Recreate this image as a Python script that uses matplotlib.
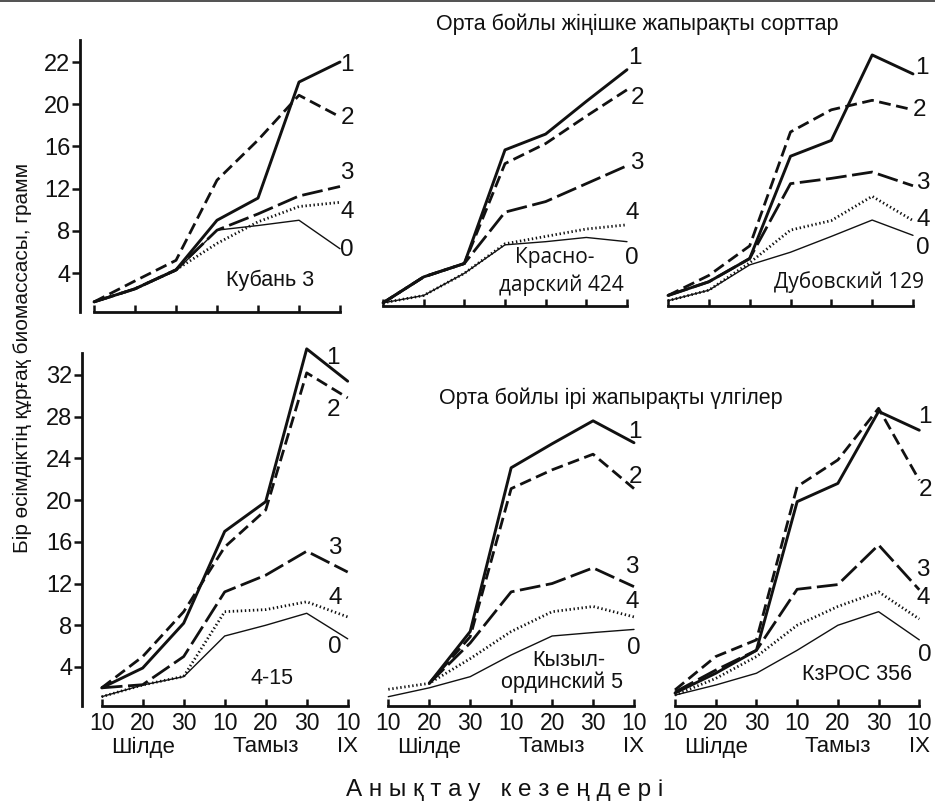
import numpy as np
import matplotlib
matplotlib.use('Agg')
import matplotlib.pyplot as plt
from matplotlib.lines import Line2D
import matplotlib.transforms as mtransforms

plt.rcParams['font.family'] = ['Liberation Sans', 'DejaVu Sans']
plt.rcParams['lines.scale_dashes'] = False

# ---------------- data ----------------
periods = ['10', '20', '30', '10', '20', '30', '10']
months = ['Шілде', 'Тамыз', 'IX']
month_pos = [1, 4, 6]
series_names = ['1', '2', '3', '4', '0']
x = np.arange(7)
nan = np.nan

# top row: Орта бойлы жіңішке жапырақты сорттар
kuban_1 = [1.26, 2.5, 4.3, 9.0, 11.1, 22.1, 24.0]
kuban_2 = [1.26, 3.25, 5.2, 12.8, 16.6, 20.85, 18.8]
kuban_3 = [1.26, 2.5, 4.3, 8.06, 9.6, 11.3, 12.2]
kuban_4 = [1.26, 2.5, 4.3, 6.8, 8.85, 10.3, 10.7]
kuban_0 = [1.26, 2.5, 4.2, 8.06, 8.5, 9.0, 6.3]

krasn_1 = [0.6, 3.06, 4.33, 15.1, 16.6, 19.7, 22.7]
krasn_2 = [0.6, 3.06, 4.33, 13.8, 15.7, 18.3, 20.8]
krasn_3 = [0.6, 3.06, 4.33, 9.2, 10.2, 11.9, 13.6]
krasn_4 = [0.6, 1.3, 3.4, 6.2, 6.9, 7.6, 8.0]
krasn_0 = [0.6, 1.3, 3.4, 6.1, 6.4, 6.8, 6.4]

dubov_1 = [1.3, 2.6, 4.8, 14.5, 16.0, 24.1, 22.3]
dubov_2 = [1.3, 3.2, 6.0, 16.8, 18.9, 19.8, 18.9]
dubov_3 = [1.3, 2.6, 4.8, 11.9, 12.4, 13.0, 11.7]
dubov_4 = [0.8, 1.8, 4.4, 7.5, 8.4, 10.7, 8.4]
dubov_0 = [0.8, 1.8, 4.2, 5.4, 6.9, 8.45, 7.0]

# bottom row: Орта бойлы ірі жапырақты үлгілер
s415_1 = [2.0, 3.9, 8.2, 17.0, 19.85, 34.5, 31.4]
s415_2 = [2.0, 5.0, 9.3, 15.5, 19.05, 32.2, 29.8]
s415_3 = [2.0, 2.3, 5.0, 11.2, 12.8, 15.1, 13.1]
s415_4 = [1.15, 2.27, 3.1, 9.3, 9.5, 10.25, 8.8]
s415_0 = [1.15, 2.27, 3.07, 6.97, 8.0, 9.15, 6.7]

kyzyl_1 = [nan, 2.43, 7.4, 23.1, 25.4, 27.6, 25.5]
kyzyl_2 = [nan, 2.43, 6.9, 21.1, 22.9, 24.4, 21.1]
kyzyl_3 = [nan, 2.43, 6.3, 11.2, 12.0, 13.5, 11.7]
kyzyl_4 = [1.86, 2.43, 4.8, 7.4, 9.3, 9.8, 8.8]
kyzyl_0 = [1.15, 2.0, 3.07, 5.15, 6.97, 7.3, 7.6]

kzros_1 = [1.5, 3.4, 5.6, 19.85, 21.6, 28.5, 26.7]
kzros_2 = [1.8, 5.0, 6.6, 21.3, 23.85, 28.8, 21.9]
kzros_3 = [1.6, 3.7, 5.6, 11.45, 11.9, 15.7, 11.4]
kzros_4 = [1.3, 2.9, 5.0, 8.0, 9.8, 11.2, 8.6]
kzros_0 = [1.3, 2.27, 3.4, 5.6, 8.0, 9.3, 6.6]

top_yticks = [4, 8, 12, 16, 20, 24]
top_ytick_labels = ['4', '8', '12', '16', '20', '22']
bot_yticks = [4, 8, 12, 16, 20, 24, 28, 32]
bot_ytick_labels = ['4', '8', '12', '16', '20', '24', '28', '32']

# ---------------- layout ----------------
W, H = 935, 807
fig = plt.figure(figsize=(W / 100, H / 100), dpi=100)
INK = '#111111'


def fx(px):
    return px / W


def fy(py):
    return 1 - py / H


def line_styles():
    return {
        '1': dict(color=INK, lw=2.1, ls='-'),
        '2': dict(color=INK, lw=2.0, dashes=(8.5, 4.0)),
        '3': dict(color=INK, lw=2.0, dashes=(15, 4.0)),
        '4': dict(color=INK, lw=2.0, dashes=(1.0, 1.9)),
        '0': dict(color=INK, lw=1.0, ls='-'),
    }


def make_ax(x0, x6, ybase, ytop, zero_px, ppu, yaxis=False, spine_px=None,
            yticks=None, ylabels=None, xlabels=False):
    hpx = ybase - ytop
    ax = fig.add_axes([fx(x0), fy(ybase), (x6 - x0) / W, hpx / H])
    ax.set_facecolor('none')
    ylo = (zero_px - ybase) / ppu
    ax.set_xlim(0, 6)
    ax.set_ylim(ylo, ylo + hpx / ppu)
    for s in ['top', 'right']:
        ax.spines[s].set_visible(False)
    ax.spines['bottom'].set_linewidth(2.0)
    ax.spines['bottom'].set_color(INK)
    ax.set_xticks(x)
    ax.tick_params(axis='x', direction='in', length=5.4, width=1.8,
                   color=INK, pad=4.5, labelsize=16.5, labelcolor=INK)
    if xlabels:
        ax.set_xticklabels(periods)
    else:
        ax.set_xticklabels([])
    if yaxis:
        ax.spines['left'].set_position(('outward', (x0 - spine_px) * 0.72))
        ax.spines['left'].set_linewidth(2.0)
        ax.spines['left'].set_color(INK)
        ax.set_yticks(yticks)
        ax.set_yticklabels(ylabels)
        ax.tick_params(axis='y', direction='out', length=6, width=1.8,
                       color=INK, pad=1.0, labelsize=17, labelcolor=INK)
    else:
        ax.spines['left'].set_visible(False)
        ax.set_yticks([])
    return ax


def draw(ax, data):
    st = line_styles()
    for name, vals in zip(series_names, data):
        ax.plot(x, vals, clip_on=False, solid_joinstyle='round',
                solid_capstyle='round', dash_capstyle='butt', **st[name])


def curve_labels(pos):
    for name, (px, py) in zip(series_names, pos):
        fig.text(fx(px), fy(py), name, ha='center', va='center', fontsize=17.5,
                 color=INK)


def month_labels(ax, ypx):
    tr = mtransforms.blended_transform_factory(ax.transData, fig.transFigure)
    for m, p in zip(months, month_pos):
        ax.text(p, fy(ypx), m, transform=tr, ha='center', va='center',
                fontsize=16, color=INK)


# top row
TOP_PPU = 10.55
ax_tl = make_ax(94, 340, 312, 40, 315.2, TOP_PPU, yaxis=True, spine_px=80,
                yticks=top_yticks, ylabels=top_ytick_labels)
ax_tm = make_ax(383, 627, 306, 40, 309.2, TOP_PPU)
ax_tr = make_ax(668, 913, 306, 40, 309.2, TOP_PPU)

draw(ax_tl, [kuban_1, kuban_2, kuban_3, kuban_4, kuban_0])
draw(ax_tm, [krasn_1, krasn_2, krasn_3, krasn_4, krasn_0])
draw(ax_tr, [dubov_1, dubov_2, dubov_3, dubov_4, dubov_0])

# bottom row
BOT_PPU = 10.43
ax_bl = make_ax(101.7, 347.7, 705.7, 353, 708.7, BOT_PPU, yaxis=True,
                spine_px=82, yticks=bot_yticks, ylabels=bot_ytick_labels,
                xlabels=True)
ax_bm = make_ax(388.3, 634, 705.7, 353, 708.7, BOT_PPU, xlabels=True)
ax_br = make_ax(675, 919.3, 705.7, 353, 708.7, BOT_PPU, xlabels=True)

draw(ax_bl, [s415_1, s415_2, s415_3, s415_4, s415_0])
draw(ax_bm, [kyzyl_1, kyzyl_2, kyzyl_3, kyzyl_4, kyzyl_0])
draw(ax_br, [kzros_1, kzros_2, kzros_3, kzros_4, kzros_0])

for ax in (ax_bl, ax_bm, ax_br):
    month_labels(ax, 747)

# curve number labels
curve_labels([(347, 65), (347, 118), (347, 173), (347, 212), (347, 250)])
curve_labels([(635, 58), (637, 98), (637, 163), (632, 213), (632, 258)])
curve_labels([(922, 68), (920, 110), (923, 183), (923, 220), (923, 248)])
curve_labels([(333, 358), (333, 410), (335, 548), (335, 598), (335, 647)])
curve_labels([(635, 432), (635, 477), (632, 567), (632, 602), (634, 648)])
curve_labels([(925, 417), (925, 490), (923, 570), (923, 598), (925, 655)])

# panel names
OPEN = ['Open Sans', 'DejaVu Sans']
fig.text(fx(270), fy(280), 'Кубань 3', ha='center', va='center',
         fontsize=15.5, color=INK)
fig.text(fx(555), fy(257), 'Красно-', ha='center', va='center',
         fontsize=15, color=INK, family=OPEN)
fig.text(fx(561), fy(285), 'дарский 424', ha='center', va='center',
         fontsize=15, color=INK, family=OPEN)
fig.text(fx(849), fy(282), 'Дубовский 129', ha='center', va='center',
         fontsize=15, color=INK, family=OPEN)
fig.text(fx(272), fy(678), '4-15', ha='center', va='center', fontsize=15.5,
         color=INK)
fig.text(fx(569), fy(660), 'Кызыл-', ha='center', va='center',
         fontsize=15.5, color=INK)
fig.text(fx(562), fy(682), 'ординский 5', ha='center', va='center',
         fontsize=15.5, color=INK)
fig.text(fx(857), fy(675), 'КзРОС 356', ha='center', va='center',
         fontsize=15.5, color=INK)

# group titles
fig.text(fx(637), fy(24), 'Орта бойлы жіңішке жапырақты сорттар',
         ha='center', va='center', fontsize=15.5, color=INK)
fig.text(fx(611), fy(398), 'Орта бойлы ірі жапырақты үлгілер',
         ha='center', va='center', fontsize=15.5, color=INK)

# axis titles
fig.text(fx(22), fy(358), 'Бір өсімдіктің құрғақ биомассасы, грамм',
         rotation=90, ha='center', va='center', fontsize=15, color=INK)
fig.text(fx(505), fy(790), 'А н ы қ т а у   к е з е ң д е р і',
         ha='center', va='center', fontsize=17.5, color=INK)

# thin frame line along the top edge
fig.add_artist(Line2D([0, 1], [fy(0.8), fy(0.8)], transform=fig.transFigure,
                      color='#333333', lw=1.2))

fig.savefig('out.png', dpi=100)
